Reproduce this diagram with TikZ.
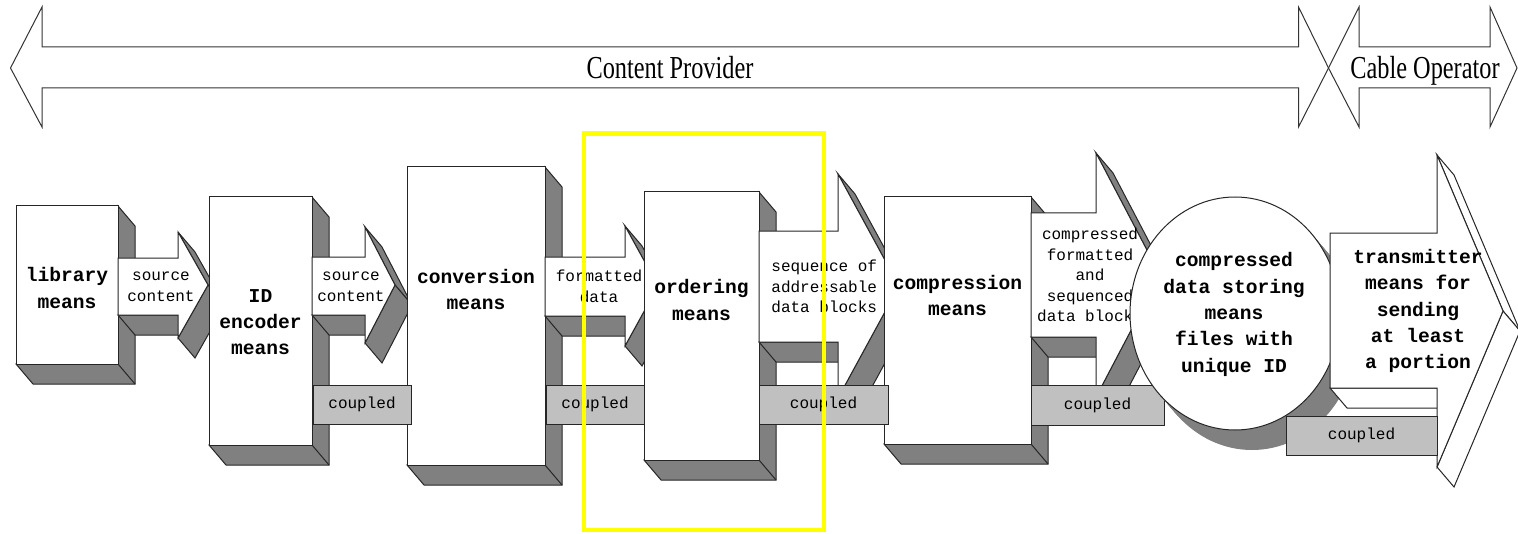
\documentclass[tikz,border=0pt]{standalone}
\usepackage{fontspec}
\setmainfont{Liberation Serif}
\setmonofont{Liberation Mono}
\usepackage{graphicx}
\definecolor{depthgray}{HTML}{808080}
\definecolor{tagfill}{HTML}{C0C0C0}
\definecolor{marker}{HTML}{FFFF00}
\tikzset{
  front/.style={fill=white, draw=black!85, line width=0.5pt},
  side/.style={fill=depthgray, draw=black!85, line width=0.5pt},
  hollow/.style={fill=white, draw=black!85, line width=0.5pt},
  edge/.style={draw=black!85, line width=0.5pt},
  tag/.style={fill=tagfill, draw=black!85, line width=0.5pt},
  rangeline/.style={draw=black!80, line width=0.5pt},
  rangetext/.style={font=\fontsize{16}{18}\selectfont, inner sep=0pt, anchor=base},
  blocktext/.style={font=\ttfamily\bfseries\fontsize{9.8}{13.15}\selectfont, align=center, inner sep=0pt},
  flowtext/.style={font=\ttfamily\fontsize{8}{10.25}\selectfont, align=center, inner sep=0pt}
}
\def\depthx{17}
\def\depthy{20}
% box with its depth: x1 y1 x2 y2
\newcommand{\slab}[4]{%
  \filldraw[side] (#3,#2) -- (#3+\depthx,#2+\depthy) -- (#3+\depthx,#4+\depthy)
    -- (#1+\depthx,#4+\depthy) -- (#1,#4) -- (#3,#4) -- cycle;
  \draw[edge] (#3,#4) -- (#3+\depthx,#4+\depthy);
  \filldraw[front] (#1,#2) rectangle (#3,#4);}
% arrow with its depth: shaft x, shaft top, shaft bottom, head x, head top, head bottom, tip x
\newcommand{\solidarrow}[8][side]{%
  \filldraw[#1] (#2,#4) -- (#5,#4) -- (#5+\depthx,#4+\depthy) -- (#2+\depthx,#4+\depthy) -- cycle;
  \filldraw[#1] (#5,#6) -- (#8,{(#6+#7)/2}) -- (#8+\depthx,{(#6+#7)/2+\depthy}) -- (#5+\depthx,#6+\depthy) -- cycle;
  \filldraw[#1] (#8,{(#6+#7)/2}) -- (#5,#7) -- (#5+\depthx,#7+\depthy) -- (#8+\depthx,{(#6+#7)/2+\depthy}) -- cycle;
  \filldraw[front] (#2,#3) -- (#5,#3) -- (#5,#6) -- (#8,{(#6+#7)/2}) -- (#5,#7) -- (#5,#4) -- (#2,#4) -- cycle;}

\begin{document}
\begin{tikzpicture}[x=0.5pt, y=-0.5pt]
  \useasboundingbox (0,0) rectangle (1518,534);

  % who does what
  \draw[rangeline] (10.5,68) -- (42,7) -- (42,47) -- (1298.5,47) -- (1298.5,7) -- (1328.5,68)
    -- (1298.5,127) -- (1298.5,88) -- (42,88) -- (42,127) -- cycle;
  \draw[rangeline] (1328.5,68) -- (1359,7) -- (1359,47) -- (1490,47) -- (1490,7) -- (1517,68)
    -- (1490,127) -- (1490,88) -- (1359,88) -- (1359,127) -- cycle;
  \node[rangetext] (provider) at (670,78.5) {\scalebox{0.76}[1]{Content Provider}};
  \node[rangetext] (operator) at (1425,78.5) {\scalebox{0.76}[1]{Cable Operator}};

  % the chain
  \slab{16}{206}{118}{364}
  \node[blocktext] (lib) at (67,288) {library\\means};
  \solidarrow{118}{258}{315}{178}{232}{338}{208}
  \node[flowtext] (src1) at (161,287) {source\\content};
  \slab{209}{197}{312}{445}
  \node[blocktext] (idenc) at (260.5,322) {ID\\encoder\\means};
  \solidarrow{312}{257}{315}{365}{227}{343}{395}
  \node[flowtext] (src2) at (351,287) {source\\content};
  \slab{407}{167}{545}{465}
  \node[blocktext] (conv) at (476,289.5) {conversion\\means};
  \solidarrow{545}{257}{316}{625}{226}{346}{658}
  \node[flowtext] (fmt) at (599,286.5) {formatted\\data};
  \slab{644}{192}{759}{460}
  \node[blocktext] (order) at (701.5,300) {ordering\\means};
  \solidarrow{759}{231}{342}{838}{174}{398}{899}
  \node[flowtext, align=left, anchor=west] (seq) at (771,286.5) {sequence of\\addressable\\data blocks};
  \slab{884}{197}{1031}{444}
  \node[blocktext] (compr) at (957.5,295.5) {compression\\means};
  \solidarrow{1031}{213}{337}{1096}{153}{397}{1160}
  \node[flowtext] (cfs) at (1090,275) {compressed\\formatted\\and\\sequenced\\data blocks};

  \foreach \a/\b/\c/\d [count=\i] in {313/385/411/424, 546/385/644/424, 759/385/888/424, 1031/385/1164/425} {
    \filldraw[tag] (\a,\b) rectangle (\c,\d);
    \node[flowtext] (cpl\i) at ({(\a+\c)/2},{(\b+\d)/2}) {coupled};
  }

  % storage
  \foreach \t in {0.1,0.2,...,1.0}
    \fill[depthgray] ({1235+\t*\depthx},{313.5+\t*\depthy}) ellipse [x radius=105, y radius=116.5];
  \filldraw[front] (1235,313.5) ellipse [x radius=105, y radius=116.5];
  \node[blocktext] (store) at (1234,314.5) {compressed\\data storing\\means\\files with\\unique ID};

  \solidarrow[hollow]{1330}{233}{388}{1437}{155}{467}{1503}
  \node[blocktext] (send) at (1418,311) {transmitter\\means for\\sending\\at least\\a portion};
  \filldraw[tag] (1286,416) rectangle (1437,455);
  \node[flowtext] (cpl5) at (1361.5,435.5) {coupled};

  \draw[marker, line width=2.25pt] (584,133.5) rectangle (824,530);
\end{tikzpicture}
\end{document}
